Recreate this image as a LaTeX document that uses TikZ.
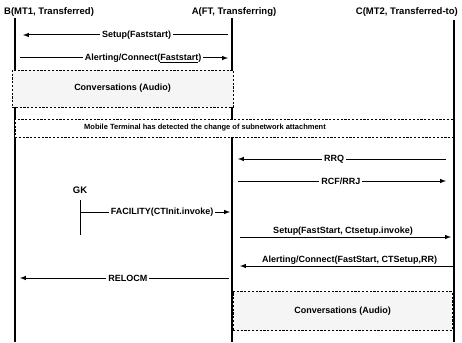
\documentclass[tikz,border=0pt]{standalone}
\usepackage{fontspec}
\setmainfont{Liberation Sans}
\usetikzlibrary{positioning}

\tikzset{
  head/.style={inner sep=0pt, font=\bfseries\fontsize{9.5}{10}\selectfont},
  life/.style={line width=1.3pt},
  msg/.style={line width=1pt, -latex},
  lbl/.style={fill=white, inner sep=2pt, font=\bfseries\fontsize{9}{10}\selectfont},
  lblup/.style={above=0pt, inner sep=1pt, font=\bfseries\fontsize{9}{10}\selectfont},
  dbox/.style={draw, line width=0.9pt, dash pattern=on 2.2pt off 1.6pt, inner sep=0pt,
    font=\bfseries\fontsize{9}{10}\selectfont},
}

\begin{document}
\begin{tikzpicture}[x=1pt, y=-1pt]
    \useasboundingbox (0,0) rectangle (462,342);
    % lifelines
    \node[head, anchor=west] (B) at (4,12) {B(MT1, Transferred)};
    \node[head] (A) at (234,12) {A(FT, Transferring)};
    \node[head, anchor=east] (C) at (458,12) {C(MT2, Transferred-to)};
    \coordinate (Bl) at (15,0);
    \coordinate (Al) at (232,0);
    \coordinate (Cl) at (454,0);
    \draw[life] (Bl |- 0,18) -- (Bl |- 0,342);
    \draw[life] (Al |- 0,18) -- (Al |- 0,342);
    \draw[life] (Cl |- 0,20) -- (Cl |- 0,342);

    \draw[msg, shorten <=4pt, shorten >=8pt] (Al |- 0,35) -- (Bl |- 0,35)
      node[lbl, pos=.44] {Setup(Faststart)};
    \draw[msg, shorten <=5pt, shorten >=4pt] (Bl |- 0,58) -- (Al |- 0,58)
      node[lbl, pos=.59] {Alerting/Connect(\underline{Faststart})};

    \node[dbox, fill=gray!8, minimum width=221pt, minimum height=37pt] (conv1)
      at (122.5,88.5) {Conversations (Audio)};
    \node[dbox, fill=white, minimum width=438pt, minimum height=18pt] (mt) at (234,128) {};
    \node[font=\bfseries\fontsize{7.5}{8}\selectfont, inner sep=0pt] (mttext) at (205,128)
      {Mobile Terminal has detected the change of subnetwork attachment};

    \draw[msg, shorten <=8pt, shorten >=6pt] (Cl |- 0,159) -- (Al |- 0,159)
      node[lbl, pos=.54] {RRQ};
    \draw[msg, shorten <=6pt, shorten >=8pt] (Al |- 0,181) -- (Cl |- 0,181)
      node[lbl, pos=.49] {RCF/RRJ};

    % gatekeeper
    \node[head] (GK) at (80,190) {GK};
    \coordinate (Gl) at (80,0);
    \draw[line width=1pt] (Gl |- 0,200) -- (Gl |- 0,235);
    \draw[msg, shorten >=2pt] (Gl |- 0,212) -- (Al |- 0,212)
      node[lbl, pos=.54] {FACILITY(CTInit.invoke)};

    \draw[msg, shorten <=8pt, shorten >=3pt] (Al |- 0,237) -- (Cl |- 0,237)
      node[lblup, pos=.5] {Setup(FastStart, Ctsetup.invoke)};
    \draw[msg, shorten >=8pt] (Cl |- 0,266) -- (Al |- 0,266)
      node[lblup, pos=.47] {Alerting/Connect(FastStart, CTSetup,RR)};
    \draw[msg, shorten <=3pt, shorten >=5pt] (Al |- 0,278) -- (Bl |- 0,278)
      node[lbl, pos=.48] {RELOCM};

    \node[dbox, fill=gray!8, minimum width=219pt, minimum height=39pt] (conv2)
      at (342.5,311) {Conversations (Audio)};
\end{tikzpicture}
\end{document}
